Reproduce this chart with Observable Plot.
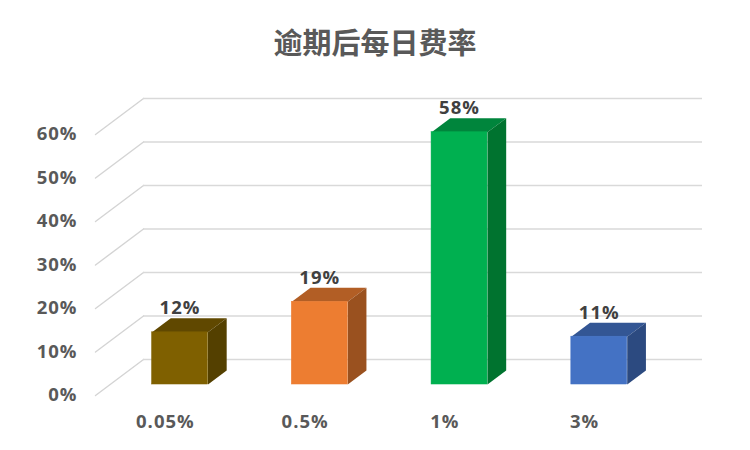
<!DOCTYPE html>
<html>
<head>
<meta charset="utf-8">
<script src="https://cdn.jsdelivr.net/npm/d3@7"></script>
<script src="https://cdn.jsdelivr.net/npm/@observablehq/plot@0.6"></script>
<style>
  html, body { margin: 0; padding: 0; background: #fff; }
  #title { height: 70px; text-align: center; font: bold 29px/83px "Noto Sans CJK SC", sans-serif; color: #595959; }
  svg { display: block; }
</style>
</head>
<body>
<div id="title">逾期后每日费率</div>
<div id="chart"></div>
<script>
const categories = ["0.05%", "0.5%", "1%", "3%"];
const values = [12, 19, 58, 11];
const labels = ["12%", "19%", "58%", "11%"];
const yTicks = [0, 10, 20, 30, 40, 50, 60];
const frontColors = ["#7f6000", "#ed7d31", "#00b050", "#4472c4"];
const topColors = ["#604800", "#b25e25", "#00853c", "#335694"];
const sideColors = ["#544000", "#9a511f", "#00732f", "#2c4a80"];

// Oblique projection: depth t (0 = front plane, 1 = back wall)
const wallDX = 0.3435, wallDY = 8.276;
const px = (i, t) => i + t * wallDX;
const py = (v, t) => v + t * wallDY;
const barT0 = 0.305, barT1 = 0.695, halfW = 0.2;

const floorRows = yTicks.flatMap(v => [
  {v, x: px(-0.5, 0), y: py(v, 0)},
  {v, x: px(-0.5, 1), y: py(v, 1)}
]);
const bars = values.map((v, i) => ({
  i, v, label: labels[i],
  l: i - halfW, r: i + halfW
}));

const font = '"Open Sans", sans-serif';
const marks = [
  Plot.line(floorRows, {x: "x", y: "y", z: "v", stroke: "#d4d4d4", strokeWidth: 1.4}),
  Plot.ruleY(yTicks, {y: v => py(v, 1), x1: px(-0.5, 1), x2: px(3.5, 1), stroke: "#d9d9d9", strokeWidth: 1.5})
];
for (const b of bars) {
  const topFace = [[b.l, barT0], [b.r, barT0], [b.r, barT1], [b.l, barT1]]
    .map(([x, t]) => ({x: px(x, t), y: py(b.v, t)}));
  const sideFace = [[0, barT0], [b.v, barT0], [b.v, barT1], [0, barT1]]
    .map(([v, t]) => ({x: px(b.r, t), y: py(v, t)}));
  marks.push(
    Plot.line(topFace, {x: "x", y: "y", fill: topColors[b.i], stroke: "none"}),
    Plot.line(sideFace, {x: "x", y: "y", fill: sideColors[b.i], stroke: "none"}),
    Plot.rect([b], {
      x1: px(b.l, barT0), x2: px(b.r, barT0),
      y1: py(0, barT0), y2: py(b.v, barT0),
      fill: frontColors[b.i], stroke: frontColors[b.i], strokeWidth: 0.5
    })
  );
}
marks.push(
  Plot.text(bars, {
    x: b => px(b.i, barT0), y: b => py(b.v, barT0), text: "label",
    dy: -24, fill: "#404040", fontSize: 18.5, fontWeight: "bold"
  }),
  Plot.axisY({ticks: yTicks, tickFormat: v => v + "%", tickSize: 0, tickPadding: 18, label: null, fill: "#595959"}),
  Plot.axisX({ticks: [0, 1, 2, 3], tickFormat: i => categories[i], tickSize: 0, tickPadding: 19, label: null, fill: "#595959"})
);

const chart = Plot.plot({
  width: 750,
  height: 380,
  marginLeft: 95,
  marginRight: 48,
  marginTop: 28,
  marginBottom: 55,
  x: {domain: [-0.5, 3.5 + wallDX]},
  y: {domain: [0, 60 + wallDY]},
  style: {fontFamily: font, fontSize: "18.5px", fontWeight: "bold", letterSpacing: "1px", background: "#fff", overflow: "visible"},
  marks
});
document.getElementById("chart").appendChild(chart);
</script>
</body>
</html>
